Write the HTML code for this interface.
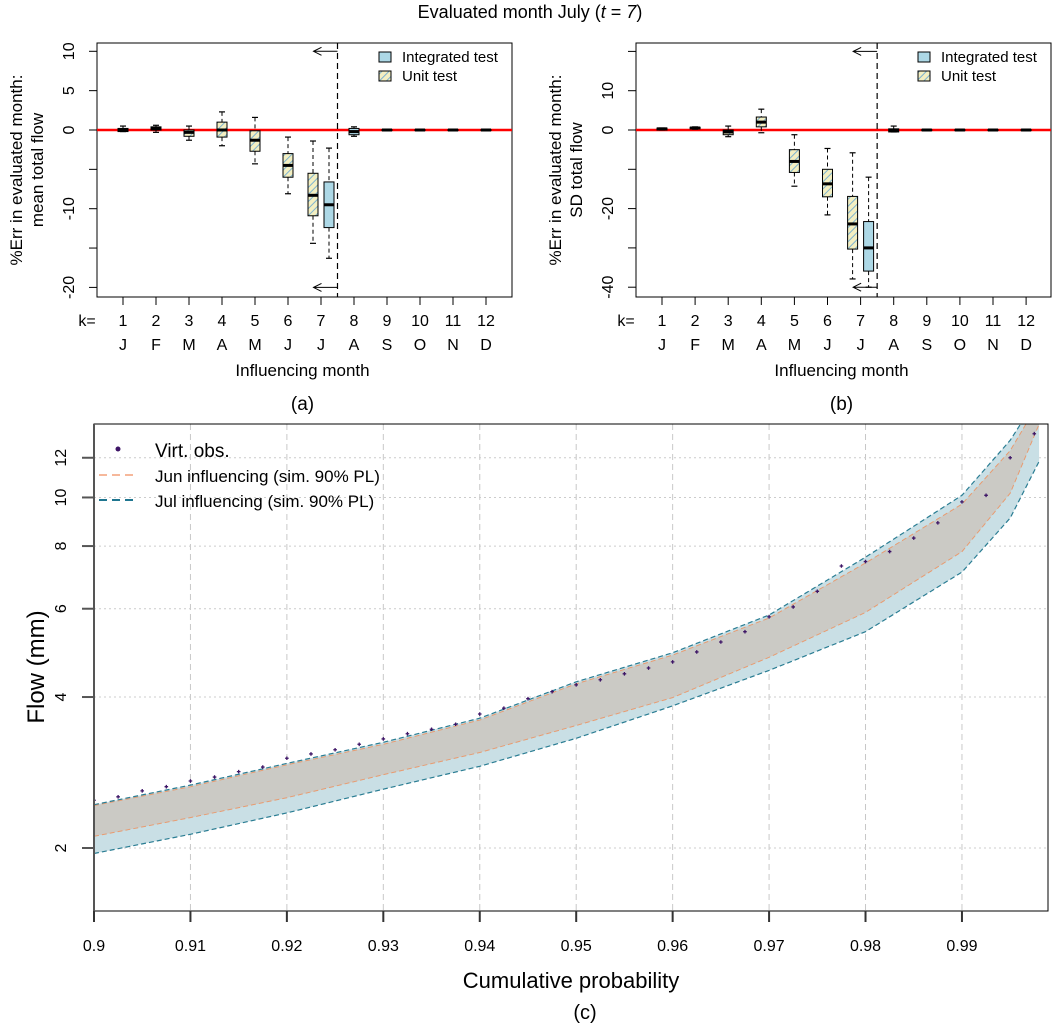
<!DOCTYPE html>
<html><head><meta charset="utf-8">
<style>
html,body{margin:0;padding:0;background:#fff;}
svg{display:block;font-family:"Liberation Sans",Arial,sans-serif;}
</style></head>
<body>
<svg id="fig" width="1060" height="1025" viewBox="0 0 1060 1025" xmlns="http://www.w3.org/2000/svg">
<defs>
<pattern id="hatch" patternUnits="userSpaceOnUse" width="5" height="5" patternTransform="rotate(45)">
<rect width="5" height="5" fill="#f3efc2"/>
<line x1="0" y1="0" x2="0" y2="5" stroke="#7fb4d0" stroke-width="2"/>
</pattern>
<clipPath id="clipC"><rect x="94" y="424" width="954" height="487"/></clipPath>
</defs>
<text x="530" y="18" font-size="18" text-anchor="middle" font-family="Liberation Sans, sans-serif">Evaluated month July (<tspan font-style="italic">t</tspan> = <tspan font-style="italic">7</tspan>)</text>
<g id="pa"></g>
<g id="pb"></g>
<g id="pc"></g>
</svg>
<script>
// ---------- Panel a/b data ----------
const kLabels = ["1","2","3","4","5","6","7","8","9","10","11","12"];
const monthLabels = ["J","F","M","A","M","J","J","A","S","O","N","D"];
// [whiskerLow, q1, median, q3, whiskerHigh]
const unitA = [[-0.2,-0.2,0,0.2,0.5],[-0.3,0,0.2,0.4,0.6],[-1.3,-0.8,-0.3,0,0.5],[-2,-0.9,0,1,2.3],[-4.3,-2.7,-1.3,-0.1,1.6],[-8.1,-6,-4.5,-3,-0.9],[-14.4,-10.9,-8.3,-5.5,-1.4]];
const intA = [[-16.3,-12.4,-9.5,-6.6,-2.3],[-0.8,-0.6,-0.2,0.2,0.4],[-0.1,-0.05,0,0.05,0.1],[-0.1,-0.05,0,0.05,0.1],[-0.1,-0.05,0,0.05,0.1],[-0.1,-0.05,0,0.05,0.1]];
const unitB = [[0,0,0.3,0.5,0.5],[0.2,0.3,0.5,0.7,0.8],[-1.7,-1.2,-0.5,0,1],[-0.7,0.8,2,3.3,5.3],[-14.3,-10.8,-8,-5,-1.2],[-21.6,-17,-13.7,-10,-4.7],[-37.9,-30.3,-23.9,-16.9,-5.8]];
const intB = [[-40,-35.9,-30,-23.3,-12],[-0.5,-0.5,0,0.3,1],[-0.2,-0.1,0,0.1,0.2],[-0.2,-0.1,0,0.1,0.2],[-0.2,-0.1,0,0.1,0.2],[-0.2,-0.1,0,0.1,0.2]];
const ticksA = [10,5,0,-5,-10,-15,-20];
const tickLabelsA = ["10","5","0","","-10","","-20"];
const ticksB = [20,10,0,-10,-20,-30,-40];
const tickLabelsB = ["","10","0","","-20","","-40"];

// ---------- Panel c data ----------
const bandP = [0.90,0.91,0.92,0.93,0.94,0.95,0.96,0.97,0.98,0.99,0.995,0.998];
const julUpper = [2.44,2.67,2.95,3.25,3.63,4.29,4.9,5.83,7.6,10.1,13.0,16];
const junUpper = [2.43,2.65,2.93,3.22,3.60,4.25,4.85,5.75,7.4,9.7,12.4,15.5];
const junLower = [2.11,2.30,2.52,2.80,3.10,3.51,3.99,4.8,5.9,7.8,10.2,14];
const julLower = [1.95,2.13,2.35,2.62,2.91,3.31,3.84,4.52,5.4,7.1,9.1,11.8];
const obsP = [0.9,0.9025,0.905,0.9075,0.91,0.9125,0.915,0.9175,0.92,0.9225,0.925,0.9275,0.93,0.9325,0.935,0.9375,0.94,0.9425,0.945,0.9475,0.95,0.9525,0.955,0.9575,0.96,0.9625,0.965,0.9675,0.97,0.9725,0.975,0.9775,0.98,0.9825,0.985,0.9875,0.99,0.9925,0.995,0.9975];
const obsV = [2.49,2.53,2.60,2.65,2.72,2.77,2.84,2.90,3.02,3.08,3.14,3.22,3.30,3.38,3.45,3.53,3.70,3.80,3.97,4.10,4.23,4.33,4.45,4.57,4.70,4.92,5.15,5.40,5.78,6.05,6.50,7.30,7.45,7.80,8.30,8.90,9.80,10.1,12.0,13.4];
const xTicksC = [0.9,0.91,0.92,0.93,0.94,0.95,0.96,0.97,0.98,0.99];
const xTickLabelsC = ["0.9","0.91","0.92","0.93","0.94","0.95","0.96","0.97","0.98","0.99"];
const yTicksC = [2,4,6,8,10,12];

const NS = "http://www.w3.org/2000/svg";
function mk(parent, tag, attrs, text){
  const e = document.createElementNS(NS, tag);
  for (const k in attrs) e.setAttribute(k, attrs[k]);
  if (text !== undefined) e.textContent = text;
  parent.appendChild(e);
  return e;
}

function drawBoxPanel(g, cfg){
  const {L,R,T,B,x0,dx,y0,sc,ticks,tickLabels,unit,integ,ylab2,tag} = cfg;
  const X = k => x0 + (k-1)*dx;
  const Y = v => y0 - v*sc;
  const ya = mk(g,'g',{});
  
  
  mk(ya,'line',{x1:L,y1:Y(ticks[0]),x2:L,y2:Y(ticks[ticks.length-1]),stroke:'#000','stroke-width':1});
  ticks.forEach((t,i)=>{
    mk(ya,'line',{x1:L-8,y1:Y(t),x2:L,y2:Y(t),stroke:'#000','stroke-width':1});
    if (tickLabels[i]) {
      const tx = mk(ya,'text',{x:L-27,y:Y(t),'font-size':16,'text-anchor':'middle',transform:`rotate(-90 ${L-27} ${Y(t)})`,'dominant-baseline':'middle'},tickLabels[i]);
      
      
    }
  });
  const yl = mk(g,'text',{x:0,y:0,'font-size':17,'text-anchor':'middle',transform:`translate(${L-75},170) rotate(-90)`});
  
  
  mk(yl,'tspan',{x:0,dy:0},'%Err in evaluated month:');
  mk(yl,'tspan',{x:0,dy:21},ylab2);
  mk(g,'rect',{x:L,y:T,width:R-L,height:B-T,fill:'none',stroke:'#000','stroke-width':1});
  const xa = mk(g,'g',{});
  
  
  mk(xa,'text',{x:L-10,y:B+29,'font-size':16,'text-anchor':'middle'},'k=');
  kLabels.forEach((lab,i)=>{
    const x = X(i+1);
    mk(xa,'line',{x1:x,y1:B,x2:x,y2:B+8,stroke:'#000'});
    mk(xa,'text',{x:x,y:B+29,'font-size':16,'text-anchor':'middle'},lab);
    mk(xa,'text',{x:x,y:B+53,'font-size':16,'text-anchor':'middle'},monthLabels[i]);
  });
  const xt = mk(g,'text',{x:(L+R)/2-2,y:B+79,'font-size':17,'text-anchor':'middle'},'Influencing month');
  
  
  const pl = mk(g,'text',{x:(L+R)/2-2,y:B+113,'font-size':19,'text-anchor':'middle'},'('+tag.slice(-1)+')');
  
  
  const zl = mk(g,'line',{x1:L,y1:Y(0),x2:R,y2:Y(0),stroke:'#ff0000','stroke-width':2.5});
  
  
  const sx = X(7.5);
  const sep = mk(g,'line',{x1:sx,y1:T,x2:sx,y2:B,stroke:'#000','stroke-dasharray':'6,4','stroke-width':1.2});
  
  
  [Y(ticks[0]),Y(ticks[ticks.length-1])].forEach(ay=>{
    const a = mk(g,'path',{d:`M${sx},${ay} L${sx-24},${ay} M${sx-16},${ay-4} L${sx-24},${ay} L${sx-16},${ay+4}`,fill:'none',stroke:'#000','stroke-width':1});
    
    
  });
  const w = 10;
  function box(cx, d, fill, name){
    const bg = mk(g,'g',{});
    
    
    const [lo,q1,md,q3,hi] = d;
    mk(bg,'line',{x1:cx,y1:Y(hi),x2:cx,y2:Y(q3),stroke:'#000','stroke-dasharray':'4,3'});
    mk(bg,'line',{x1:cx,y1:Y(q1),x2:cx,y2:Y(lo),stroke:'#000','stroke-dasharray':'4,3'});
    mk(bg,'line',{x1:cx-3,y1:Y(hi),x2:cx+3,y2:Y(hi),stroke:'#000','stroke-width':1.2});
    mk(bg,'line',{x1:cx-3,y1:Y(lo),x2:cx+3,y2:Y(lo),stroke:'#000','stroke-width':1.2});
    mk(bg,'rect',{x:cx-w/2,y:Y(q3),width:w,height:Math.max(Y(q1)-Y(q3),1),fill:fill,stroke:'#000','stroke-width':1});
    mk(bg,'line',{x1:cx-w/2,y1:Y(md),x2:cx+w/2,y2:Y(md),stroke:'#000','stroke-width':3});
  }
  unit.forEach((d,i)=>{
    const k = i+1;
    box(k===7 ? X(k)-8 : X(k), d, 'url(#hatch)', tag+'-unit-box-k'+k);
  });
  integ.forEach((d,i)=>{
    const k = i+7;
    box(k===7 ? X(k)+8 : X(k), d, '#add8e6', tag+'-integrated-box-k'+k);
  });
  const lg = mk(g,'g',{});
  
  
  const lx = R-133;
  mk(lg,'rect',{x:lx,y:T+9,width:12,height:10,fill:'#add8e6',stroke:'#000'});
  mk(lg,'text',{x:lx+23,y:T+19,'font-size':15},'Integrated test');
  mk(lg,'rect',{x:lx,y:T+28,width:12,height:10,fill:'url(#hatch)',stroke:'#000'});
  mk(lg,'text',{x:lx+23,y:T+38,'font-size':15},'Unit test');
}

drawBoxPanel(document.getElementById('pa'),{L:97,R:512,T:43,B:297,x0:123,dx:33.0,y0:130,sc:7.87,ticks:ticksA,tickLabels:tickLabelsA,unit:unitA,integ:intA,ylab2:'mean total flow',tag:'panel-a'});
drawBoxPanel(document.getElementById('pb'),{L:636,R:1051,T:43,B:297,x0:662,dx:33.1,y0:130,sc:3.93,ticks:ticksB,tickLabels:tickLabelsB,unit:unitB,integ:intB,ylab2:'SD total flow',tag:'panel-b'});

// ---------- Panel c ----------
(function(){
  const g = document.getElementById('pc');
  const L=94,R=1048,T=424,B=911;
  const X = p => 94 + (p-0.9)*9644;
  const Y = v => 848 - 217.8*Math.log(v/2);
  const grid = mk(g,'g',{});
  
  
  xTicksC.forEach(p=>mk(grid,'line',{x1:X(p),y1:T,x2:X(p),y2:B,stroke:'#c8c8c8','stroke-dasharray':'6,4'}));
  yTicksC.forEach(v=>mk(grid,'line',{x1:L,y1:Y(v),x2:R,y2:Y(v),stroke:'#cccccc','stroke-dasharray':'2,3'}));
  const cg = mk(g,'g',{'clip-path':'url(#clipC)'});
  function poly(up, lo){
    let d = up.map((v,i)=>(i?'L':'M')+X(bandP[i]).toFixed(1)+','+Y(v).toFixed(1)).join(' ');
    for (let i=lo.length-1;i>=0;i--) d += ' L'+X(bandP[i]).toFixed(1)+','+Y(lo[i]).toFixed(1);
    return d+' Z';
  }
  function line(arr){ return arr.map((v,i)=>(i?'L':'M')+X(bandP[i]).toFixed(1)+','+Y(v).toFixed(1)).join(' '); }
  const jb = mk(cg,'path',{d:poly(julUpper,julLower),fill:'#c9dfe5'});
  
  
  const nb = mk(cg,'path',{d:poly(junUpper,junLower),fill:'#cbcac5'});
  
  
  [junUpper,junLower].forEach(a=>{
    const l = mk(cg,'path',{d:line(a),fill:'none',stroke:'#e89b70','stroke-width':1,'stroke-dasharray':'5,3'});
    
    
  });
  [julUpper,julLower].forEach(a=>{
    const l = mk(cg,'path',{d:line(a),fill:'none',stroke:'#2a7d93','stroke-width':1.2,'stroke-dasharray':'5,3'});
    
    
  });
  const og = mk(cg,'g',{});
  
  
  obsP.forEach((p,i)=>{
    const x=X(p), y=Y(obsV[i]);
    const pt = mk(og,'path',{d:`M${x-1.8},${y} L${x+1.8},${y} M${x},${y-1.8} L${x},${y+1.8}`,stroke:'#3d1466','stroke-width':1.3});
    
    
  });
  mk(g,'rect',{x:L,y:T,width:R-L,height:B-T,fill:'none',stroke:'#000','stroke-width':1});
  mk(g,'line',{x1:L,y1:T,x2:L,y2:B,stroke:'#555','stroke-width':2});
  const ya = mk(g,'g',{});
  
  
  yTicksC.forEach(v=>{
    mk(ya,'line',{x1:L-12,y1:Y(v),x2:L,y2:Y(v),stroke:'#555','stroke-width':2});
    mk(ya,'text',{x:L-32,y:Y(v),'font-size':16,'text-anchor':'middle','dominant-baseline':'middle',transform:`rotate(-90 ${L-32} ${Y(v)})`},String(v));
  });
  const yt = mk(g,'text',{x:0,y:0,'font-size':24,'text-anchor':'middle',transform:'translate(44,667) rotate(-90)'},'Flow (mm)');
  
  
  const xa = mk(g,'g',{});
  
  
  xTicksC.forEach((p,i)=>{
    mk(xa,'line',{x1:X(p),y1:B,x2:X(p),y2:B+11,stroke:'#333','stroke-width':2});
    mk(xa,'text',{x:X(p),y:B+40,'font-size':16,'text-anchor':'middle'},xTickLabelsC[i]);
  });
  const xt = mk(g,'text',{x:571,y:988,'font-size':22,'text-anchor':'middle'},'Cumulative probability');
  
  
  const cap = mk(g,'text',{x:585,y:1019,'font-size':20,'text-anchor':'middle'},'(c)');
  
  
  const lg = mk(g,'g',{});
  
  
  mk(lg,'circle',{cx:118,cy:449,r:2.5,fill:'#3d1466'});
  mk(lg,'text',{x:155,y:457,'font-size':19},'Virt. obs.');
  mk(lg,'line',{x1:99,y1:475,x2:138,y2:475,stroke:'#f4a07a','stroke-width':1.5,'stroke-dasharray':'8,5'});
  mk(lg,'text',{x:155,y:482,'font-size':17},'Jun influencing (sim. 90% PL)');
  mk(lg,'line',{x1:99,y1:500,x2:138,y2:500,stroke:'#1f7690','stroke-width':2,'stroke-dasharray':'8,5'});
  mk(lg,'text',{x:155,y:507,'font-size':17},'Jul influencing (sim. 90% PL)');
})();
</script>
</body></html>
